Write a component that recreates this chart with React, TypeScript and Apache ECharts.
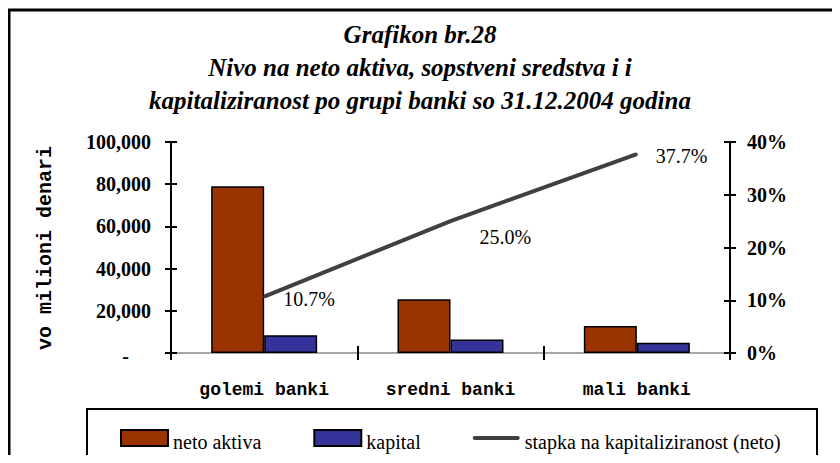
import React, { useEffect, useRef } from "react";
import * as echarts from "echarts";

const categories = ["golemi banki", "sredni banki", "mali banki"];
const netoAktiva = [79000, 25500, 12800];
const kapital = [8450, 6350, 4800];
const stapka = [0.107, 0.25, 0.377];
const titleLines = [
  "Grafikon br.28",
  "Nivo na neto aktiva, sopstveni sredstva i i",
  "kapitaliziranost po grupi banki so 31.12.2004 godina",
];
const yAxisName = "vo milioni denari";
const seriesNames = ["neto aktiva", "kapital", "stapka na kapitaliziranost (neto)"];

const SERIF = "'Liberation Serif', 'Times New Roman', serif";
const MONO = "'Liberation Mono', 'DejaVu Sans Mono', monospace";

export default function App() {
  const ref = useRef<HTMLDivElement>(null);
  useEffect(() => {
    if (!ref.current) return;
    const chart = echarts.init(ref.current, undefined, { renderer: "svg" });
    const gridCfg = { left: 171, right: 110, top: 142, bottom: 110 };
    const tickStyle = { color: "#000", width: 2 };
    chart.setOption({
      animation: false,
      backgroundColor: "#fff",
      title: {
        text: titleLines.join("\n"),
        left: "center",
        top: 13,
        textStyle: {
          fontFamily: SERIF,
          fontSize: 25,
          fontWeight: "bold",
          fontStyle: "italic",
          lineHeight: 33,
          color: "#000",
        },
      },
      graphic: [
        {
          type: "rect",
          shape: { x: 9, y: 10, width: 900, height: 700 },
          style: { fill: "none", stroke: "#000", lineWidth: 3 },
          silent: true,
          z: -1,
        },
        {
          type: "rect",
          shape: { x: 87, y: 409, width: 730, height: 52 },
          style: { fill: "none", stroke: "#000", lineWidth: 2 },
          silent: true,
        },
        {
          type: "text",
          x: 45,
          y: 248,
          rotation: Math.PI / 2,
          style: {
            text: yAxisName,
            font: "bold 20px " + MONO,
            fill: "#000",
            align: "center",
            verticalAlign: "middle",
          },
        },
      ],
      legend: {
        data: [
          { name: seriesNames[0], icon: "rect" },
          { name: seriesNames[1], icon: "rect" },
          { name: seriesNames[2], icon: "path://M2 0H48A2 2 0 0 1 48 4H2A2 2 0 0 1 2 0Z" },
        ],
        left: 115,
        top: 424,
        itemWidth: 47,
        itemHeight: 16,
        itemGap: 52,
        formatter: (name: string) => "{a|" + name + "}",
        textStyle: {
          fontFamily: SERIF,
          fontSize: 20,
          color: "#000",
          rich: {
            a: {
              fontFamily: SERIF,
              fontSize: 20,
              color: "#000",
              padding: [8, 0, 0, 0],
            },
          },
        },
      },
      grid: gridCfg,
      xAxis: [
        {
          type: "category",
          data: categories,
          position: "bottom",
          axisLine: { lineStyle: { color: "#000", width: 2 } },
          axisTick: { show: true, length: 7, lineStyle: tickStyle },
          axisLabel: {
            fontFamily: MONO,
            fontSize: 18,
            fontWeight: "bold",
            color: "#000",
            margin: 28,
          },
        },
        {
          type: "category",
          data: categories,
          position: "top",
          axisLine: { lineStyle: { color: "#a6a6a6", width: 2 } },
          axisTick: { show: false },
          axisLabel: { show: false },
        },
        {
          type: "category",
          data: categories,
          position: "bottom",
          axisLine: { show: false },
          axisTick: { show: true, inside: true, length: 7, lineStyle: tickStyle },
          axisLabel: { show: false },
        },
      ],
      yAxis: [
        {
          type: "value",
          min: 0,
          max: 100000,
          interval: 20000,
          position: "left",
          splitLine: { show: false },
          axisLine: { show: true, lineStyle: { color: "#000", width: 2 } },
          axisTick: { show: true, length: 6, lineStyle: tickStyle },
          axisLabel: {
            fontFamily: SERIF,
            fontSize: 20,
            fontWeight: "bold",
            color: "#000",
            margin: 20,
            formatter: (v: number) =>
              v === 0 ? "{d|-}" : v.toLocaleString("en-US"),
            rich: {
              d: {
                fontFamily: SERIF,
                fontSize: 20,
                fontWeight: "bold",
                padding: [6, 22, 0, 0],
              },
            },
          },
        },
        {
          type: "value",
          min: 0,
          max: 0.4,
          interval: 0.1,
          position: "right",
          splitLine: { show: false },
          axisLine: { show: true, lineStyle: { color: "#000", width: 2 } },
          axisTick: { show: true, length: 6, lineStyle: tickStyle },
          axisLabel: {
            fontFamily: SERIF,
            fontSize: 20,
            fontWeight: "bold",
            color: "#000",
            margin: 17,
            formatter: (v: number) => Math.round(v * 100) + "%",
          },
        },
        {
          type: "value",
          min: 0,
          max: 100000,
          interval: 20000,
          position: "left",
          splitLine: { show: false },
          axisLine: { show: false },
          axisTick: { show: true, inside: true, length: 6, lineStyle: tickStyle },
          axisLabel: { show: false },
        },
        {
          type: "value",
          min: 0,
          max: 0.4,
          interval: 0.1,
          position: "right",
          splitLine: { show: false },
          axisLine: { show: false },
          axisTick: { show: true, inside: true, length: 6, lineStyle: tickStyle },
          axisLabel: { show: false },
        },
      ],
      series: [
        {
          name: seriesNames[0],
          type: "bar",
          data: netoAktiva,
          barWidth: 53,
          barGap: "0%",
          itemStyle: { color: "#993300", borderColor: "#000", borderWidth: 1.5 },
        },
        {
          name: seriesNames[1],
          type: "bar",
          data: kapital,
          barWidth: 53,
          barGap: "0%",
          itemStyle: { color: "#333399", borderColor: "#000", borderWidth: 1.5 },
        },
        {
          name: seriesNames[2],
          type: "line",
          yAxisIndex: 1,
          data: stapka.map((v, i) => ({
            value: v,
            label: i === 1 ? { offset: [10, 16] } : { offset: [0, 2] },
          })),
          symbol: "circle",
          symbolSize: 2,
          showSymbol: true,
          color: "#404040",
          itemStyle: { color: "#404040" },
          lineStyle: { color: "#404040", width: 4 },
          z: 5,
          label: {
            show: true,
            position: "right",
            distance: 18,
            fontFamily: SERIF,
            fontSize: 20,
            color: "#000",
            formatter: (p: any) => (p.value * 100).toFixed(1) + "%",
          },
        },
      ],
    });
    return () => chart.dispose();
  }, []);
  return <div ref={ref} style={{ width: 840, height: 463, margin: -8 }} />;
}
